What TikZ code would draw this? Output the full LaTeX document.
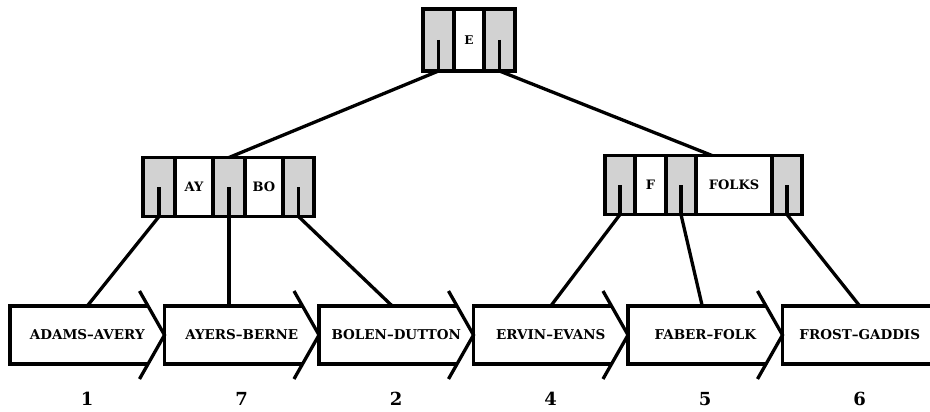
\documentclass[tikz,border=0pt]{standalone}
\usepackage{fontspec}
\setmainfont{DejaVu Serif}
\usetikzlibrary{positioning}

\tikzset{
  cellbox/.style={draw, line width=3.6pt, inner sep=0pt, outer sep=0pt, minimum height=59pt},
  ptrcell/.style={cellbox, fill=gray!35, minimum width=#1},
  keycell/.style={cellbox, fill=white, minimum width=#1, font=\bfseries\fontsize{13}{14}\selectfont},
  leaf/.style={inner sep=0pt, outer sep=0pt, minimum width=154.5pt, minimum height=58pt, font=\bfseries\fontsize{13.5}{15}\selectfont},
  link/.style={line width=3.3pt},
  pageno/.style={font=\bfseries\fontsize{18}{20}\selectfont}
}

\begin{document}
\begin{tikzpicture}[x=1pt,y=1pt]
\useasboundingbox (0,0) rectangle (930,-412);
% root page
\node[ptrcell=31pt, minimum height=62pt] (r1) at (438.5,-40) {};
\node[keycell=30pt, minimum height=62pt, right=0pt of r1, font=\bfseries\fontsize{12}{13}\selectfont] (rk) {E};
\node[ptrcell=31pt, minimum height=62pt, right=0pt of rk] (r2) {};
% left index page
\node[ptrcell=32pt] (lp1) at (159,-187) {};
\node[keycell=38pt, right=0pt of lp1] (lk1) {AY};
\node[ptrcell=32pt, right=0pt of lk1] (lp2) {};
\node[keycell=38pt, right=0pt of lp2] (lk2) {BO};
\node[ptrcell=31pt, right=0pt of lk2] (lp3) {};
% right index page
\node[ptrcell=30pt] (rp1) at (620,-185) {};
\node[keycell=31pt, right=0pt of rp1] (rk1) {F};
\node[ptrcell=30pt, right=0pt of rk1] (rp2) {};
\node[keycell=76pt, right=0pt of rp2] (rk2) {FOLKS};
\node[ptrcell=30pt, right=0pt of rk2] (rp3) {};
% pointers inside the gray cells
\foreach \p in {r1,r2,lp1,lp2,lp3,rp1,rp2,rp3}
  \draw[link] (\p.center) -- (\p.south);
% leaf pages
\node[leaf] (a1) at (87.25,-335) {ADAMS--AVERY};
\node[leaf, right=0pt of a1] (a2) {AYERS--BERNE};
\node[leaf, right=0pt of a2] (a3) {BOLEN--DUTTON};
\node[leaf, right=0pt of a3] (a4) {ERVIN--EVANS};
\node[leaf, right=0pt of a4] (a5) {FABER--FOLK};
\node[leaf, right=0pt of a5] (a6) {FROST--GADDIS};
\foreach \n in {a1,a2,a3,a4,a5} {
  \draw[link] ([xshift=-16.5pt]\n.north east) -- (\n.north west) -- (\n.south west) -- ([xshift=-16.5pt]\n.south east);
  \draw[link] ([shift={(-25pt,15pt)}]\n.north east) -- (\n.east) -- ([shift={(-25pt,-15pt)}]\n.south east);
}
\draw[link] ([xshift=20pt]a6.north east) -- (a6.north west) -- (a6.south west) -- ([xshift=20pt]a6.south east);
% page numbers
\node[pageno] (n1) at ([yshift=-35pt]a1.south) {1};
\node[pageno] (n2) at ([yshift=-35pt]a2.south) {7};
\node[pageno] (n3) at ([yshift=-35pt]a3.south) {2};
\node[pageno] (n4) at ([yshift=-35pt]a4.south) {4};
\node[pageno] (n5) at ([yshift=-35pt]a5.south) {5};
\node[pageno] (n6) at ([yshift=-35pt]a6.south) {6};
% tree links
\draw[link] (r1.south) -- (lp2.north);
\draw[link] (r2.south) -- ([xshift=16pt]rk2.north west);
\draw[link] (lp1.south) -- (a1.north);
\draw[link] (lp2.south) -- (lp2.south |- a2.north);
\draw[link] (lp3.south) -- ([xshift=-4pt]a3.north);
\draw[link] (rp1.south) -- (a4.north);
\draw[link] (rp2.south) -- ([xshift=-3pt]a5.north);
\draw[link] (rp3.south) -- (a6.north);
\end{tikzpicture}
\end{document}
